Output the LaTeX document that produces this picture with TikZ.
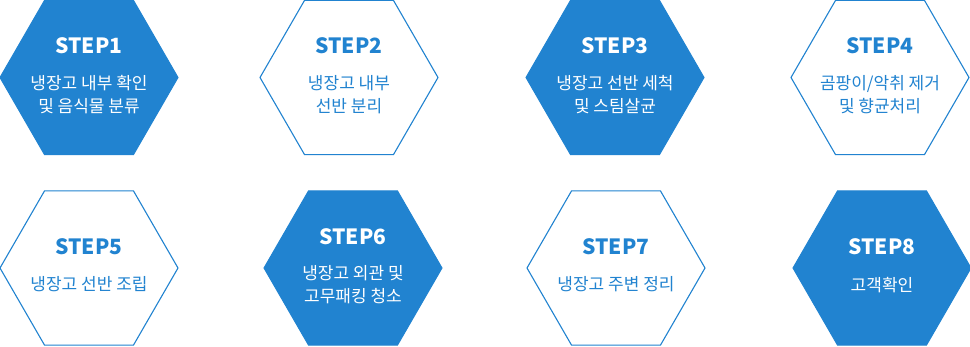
\documentclass[tikz,border=0pt]{standalone}
\usepackage{fontspec}
\setmainfont{Noto Sans CJK KR}
\usetikzlibrary{shapes.geometric}
\definecolor{stepblue}{HTML}{2183D0}
\tikzset{
  hexbase/.style={regular polygon, regular polygon sides=6, minimum size=178pt, inner sep=0pt, outer sep=0pt, line width=1pt},
  hexfill/.style={hexbase, fill=stepblue, draw=stepblue},
  hexline/.style={hexbase, fill=white, draw=stepblue, line width=1.1pt},
  titletext/.style={font=\fontsize{21}{24}\selectfont\bfseries, inner sep=0pt},
  desctext/.style={font=\fontsize{17}{23}\selectfont, align=center, inner sep=0pt},
  ontext/.style={text=white},
  offtext/.style={text=stepblue}
}
\begin{document}
\begin{tikzpicture}[x=1pt,y=-1pt]
\useasboundingbox (0,0) rectangle (970,346);
% row 1
\node[hexfill] (h1) at (89,77.5) {};
\node[hexline] (h2) at (349,77.5) {};
\node[hexfill] (h3) at (615,77.5) {};
\node[hexline] (h4) at (880,77.5) {};
% row 2
\node[hexline] (h5) at (89,268) {};
\node[hexfill] (h6) at (353,268) {};
\node[hexline] (h7) at (616,268) {};
\node[hexfill] (h8) at (882,268) {};
% titles
\node[titletext, ontext]  (s1) at ([yshift=31.5pt]h1.center) {STEP1};
\node[titletext, offtext] (s2) at ([yshift=31.5pt]h2.center) {STEP2};
\node[titletext, ontext]  (s3) at ([yshift=31.5pt]h3.center) {STEP3};
\node[titletext, offtext] (s4) at ([yshift=31.5pt]h4.center) {STEP4};
\node[titletext, offtext] (s5) at ([yshift=21pt]h5.center) {STEP5};
\node[titletext, ontext]  (s6) at ([yshift=31.5pt]h6.center) {STEP6};
\node[titletext, offtext] (s7) at ([yshift=21pt]h7.center) {STEP7};
\node[titletext, ontext]  (s8) at ([yshift=21pt]h8.center) {STEP8};
% descriptions
\node[desctext, ontext]  (d1) at ([yshift=-17pt]h1.center) {냉장고 내부 확인\\및 음식물 분류};
\node[desctext, offtext] (d2) at ([yshift=-17pt]h2.center) {냉장고 내부\\선반 분리};
\node[desctext, ontext]  (d3) at ([yshift=-17pt]h3.center) {냉장고 선반 세척\\및 스팀살균};
\node[desctext, offtext] (d4) at ([yshift=-17pt]h4.center) {곰팡이/악취 제거\\및 향균처리};
\node[desctext, offtext] (d5) at ([yshift=-16pt]h5.center) {냉장고 선반 조립};
\node[desctext, ontext]  (d6) at ([yshift=-17pt]h6.center) {냉장고 외관 및\\고무패킹 청소};
\node[desctext, offtext] (d7) at ([yshift=-16pt]h7.center) {냉장고 주변 정리};
\node[desctext, ontext]  (d8) at ([yshift=-17pt]h8.center) {고객확인};
\end{tikzpicture}
\end{document}
